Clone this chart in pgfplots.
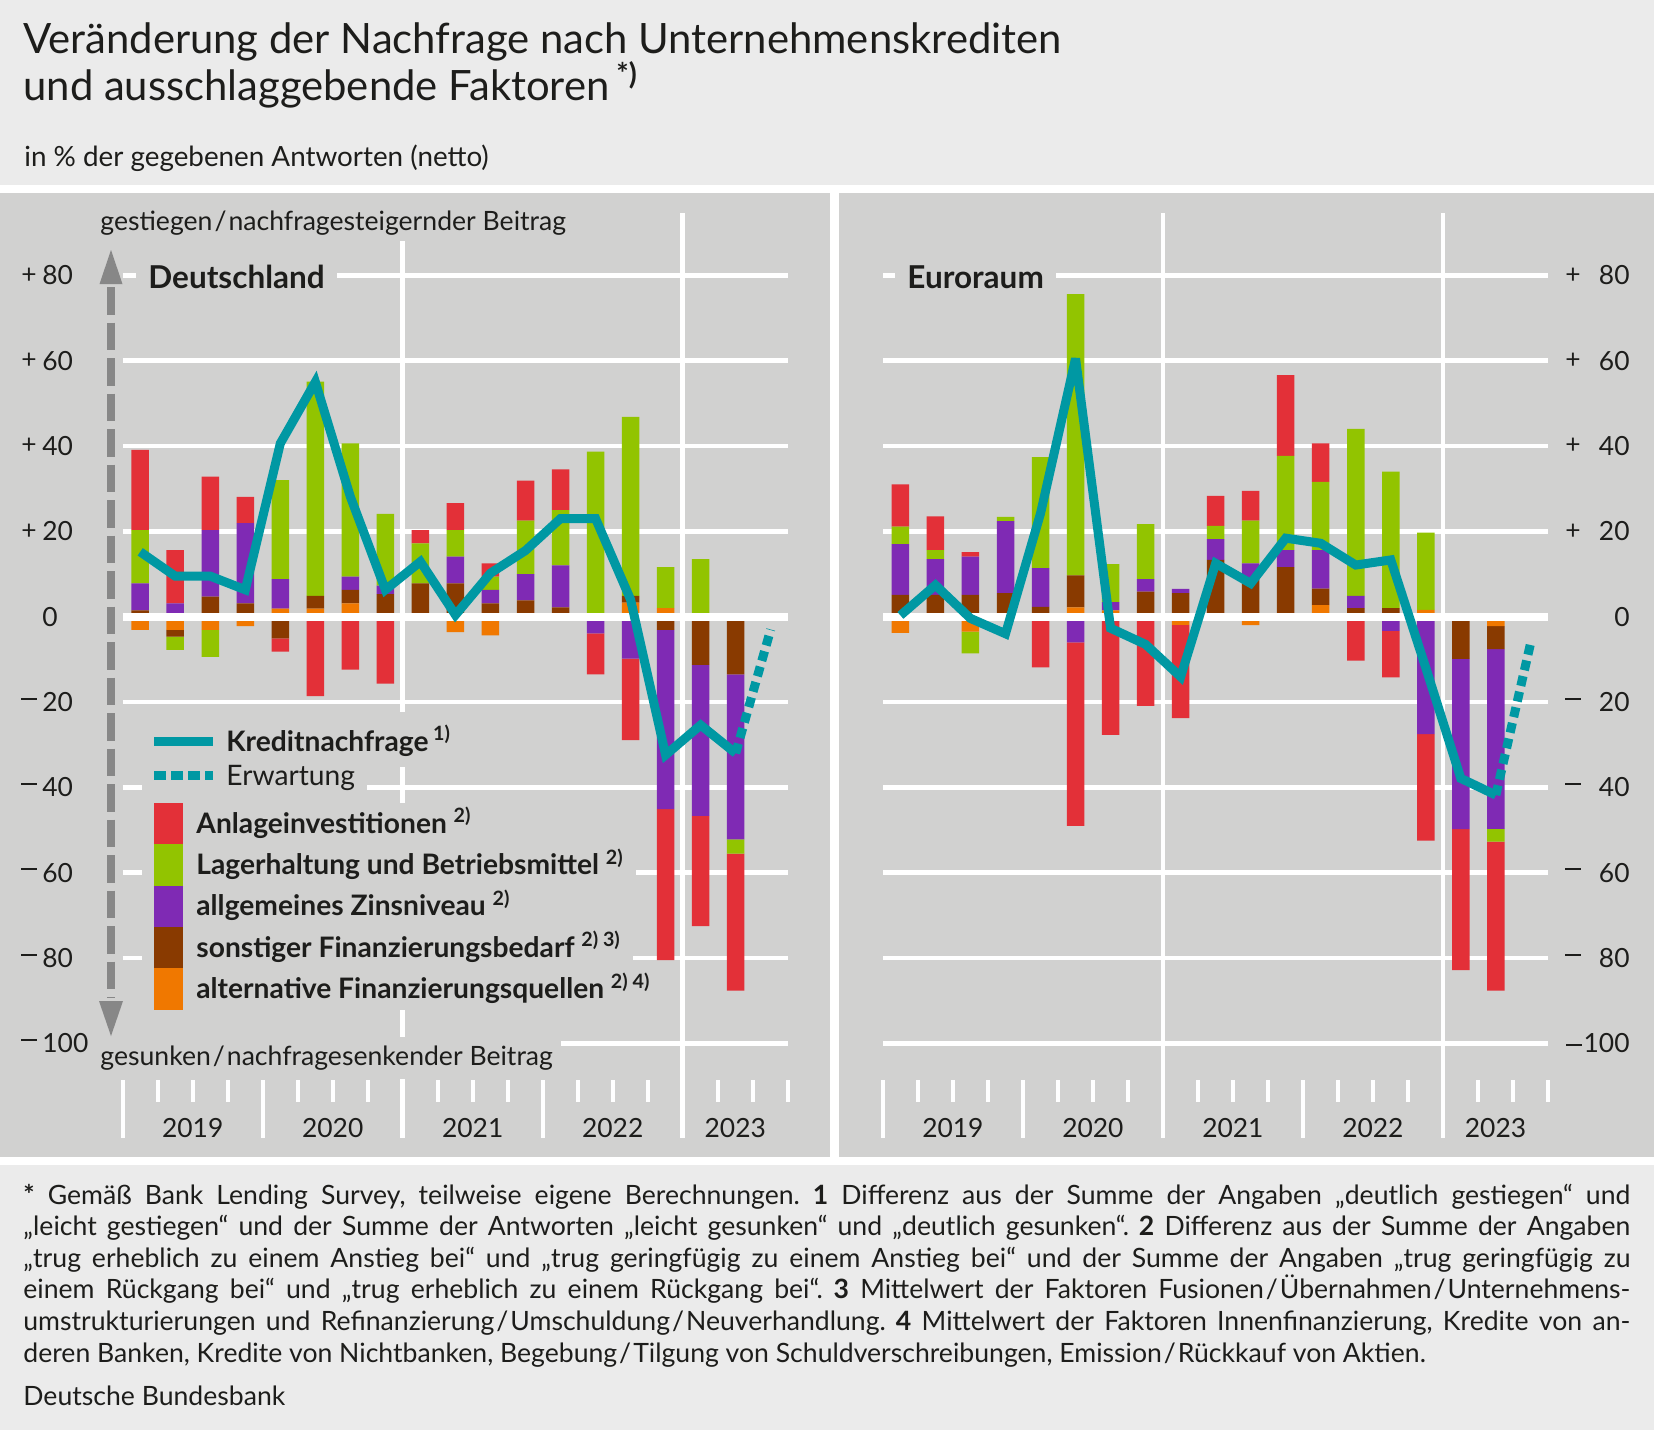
\documentclass[border=0pt]{standalone}
\usepackage{pgfplots}
\pgfplotsset{compat=1.18}
\usepackage{pgfplotstable}
\usepackage{fontspec}
\setmainfont{Lato}
\frenchspacing
\definecolor{bgl}{HTML}{EBEBEB}
\definecolor{panel}{HTML}{D1D1D0}
\definecolor{cred}{HTML}{E33038}
\definecolor{cgreen}{HTML}{92C400}
\definecolor{cpurple}{HTML}{7F2AB4}
\definecolor{cbrown}{HTML}{893A00}
\definecolor{corange}{HTML}{F07800}
\definecolor{cteal}{HTML}{0098A3}
\definecolor{arrowgray}{HTML}{878787}
\definecolor{txt}{HTML}{1D1D1B}
\newcommand{\mns}{\raisebox{0.25em}{\rule{0.58em}{0.07em}}}

% Deutschland: positive and negative parts (o=alternative, b=sonstiger, p=Zins, g=Lager, r=Anlage)
\pgfplotstableread{
x o b p g r
0 0 1.5 6.3 12.5 18.8
1 0 0 3.1 0 12.5
2 0 4.7 15.6 0 12.5
3 0 3.1 18.8 0 6.2
4 1.9 0 6.9 23.2 0
5 1.9 3.0 0 50.2 0
6 3.1 3.2 3.1 31.2 0
7 0 5.3 2.0 16.8 0
8 0 7.8 0 9.4 3.1
9 0 7.8 6.3 6.2 6.3
10 0 3.1 3.2 3.1 3.1
11 0 3.8 6.2 12.5 9.4
12 0 2.2 9.8 13.0 9.5
13 0 0 0 38.7 0
14 3.3 1.6 0 41.9 0
15 2.0 0 0 9.6 0
16 0 0 0 13.5 0
17 0 0 0 0 0
}\dePos
\pgfplotstableread{
x o b p g r
0 -3.1 0 0 0 0
1 -3.1 -1.6 0 -3.1 0
2 -3.1 0 0 -6.3 0
3 -2.2 0 0 0 0
4 0 -5.1 0 0 -3.1
5 0 0 0 0 -18.6
6 0 0 0 0 -12.4
7 0 0 0 0 -15.7
8 -0.5 0 0 0 0
9 -3.6 0 0 0 0
10 -4.4 0 0 0 0
11 0 0 0 0 0
12 0 0 0 0 0
13 0 0 -3.9 0 -9.6
14 0 0 -9.8 0 -19.1
15 0 -3.1 -42.0 0 -35.4
16 0 -11.3 -35.4 0 -25.8
17 0 -13.5 -38.7 -3.3 -32.1
}\deNeg
% Euroraum
\pgfplotstableread{
x o b p g r
0 0 5.1 11.9 4.1 9.9
1 0 5.1 8.4 2.1 7.9
2 0 5.1 9.0 0 1.0
3 0 5.5 16.9 1.0 0
4 0 2.3 9.1 26.0 0
5 2.2 7.5 0 65.9 0
6 1.5 0 1.9 8.9 0
7 0 5.9 2.9 12.9 0
8 0 5.5 1.0 0 0
9 0 13.3 4.9 3.1 7.0
10 0 9.0 3.5 10.0 7.0
11 0 11.6 4.0 22.1 18.9
12 2.7 3.9 9.0 16.0 9.0
13 0 2.0 2.9 39.1 0
14 0 2.0 0 32.0 0
15 1.6 0 0 18.1 0
16 0 0 0 0 0
17 0 0 0 0 0
}\euPos
\pgfplotstableread{
x o b p g r
0 -3.8 0 0 0 0
1 -0.6 0 0 0 0
2 -3.5 0 0 -5.1 0
3 -0.5 0 0 0 0
4 0 0 0 0 -11.9
5 0 0 -6.0 0 -43.0
6 0 0 0 0 -27.7
7 0 0 0 0 -20.9
8 -1.9 0 0 0 -21.9
9 0 0 0 0 0
10 -2.0 0 0 0 0
11 0 0 0 0 0
12 0 0 0 0 0
13 0 0 0 0 -10.3
14 0 0 -3.3 0 -10.9
15 0 -0.8 -26.7 0 -25.0
16 -0.5 -9.4 -39.9 0 -33.0
17 -2.2 -5.4 -42.1 -3.0 -34.9
}\euNeg

\pgfplotsset{
  pan/.style={scale only axis, width=332.75pt, height=384.05pt,
    xmin=-0.5, xmax=18.5, ymin=-100, ymax=80, hide axis, clip=false,
    anchor=south west},
  stk/.style={ybar stacked, bar width=8.75pt},
}
\newcommand{\stackbars}[1]{%
  \addplot[fill=corange, draw=none] table[x=x,y=o]{#1};
  \addplot[fill=cbrown, draw=none] table[x=x,y=b]{#1};
  \addplot[fill=cpurple, draw=none] table[x=x,y=p]{#1};
  \addplot[fill=cgreen, draw=none] table[x=x,y=g]{#1};
  \addplot[fill=cred, draw=none] table[x=x,y=r]{#1};
}
\tikzset{
  tl/.style={inner sep=0pt, font=\fontsize{13.2pt}{15pt}\selectfont, text=txt},
  lrow/.style={anchor=base west, fill=panel, inner sep=0pt, text=txt},
}

\begin{document}
\begin{tikzpicture}
\begin{scope}[x=0.5pt,y=-0.5pt]
\useasboundingbox (0,0) rectangle (1654,1430);
\fill[bgl] (0,0) rectangle (1654,1430);
\fill[white] (0,185) rectangle (1654,193);
\fill[panel] (0,193) rectangle (1654,1157);
\fill[white] (830,193) rectangle (839,1157);
\fill[white] (0,1157) rectangle (1654,1165);
% horizontal gridlines
\foreach \v in {-100,-80,-60,-40,-20,20,40,60,80} {
  \draw[white, line width=2.25pt] (122.7,{616.7-4.2667*\v}) -- (788.2,{616.7-4.2667*\v});
  \draw[white, line width=2.25pt] (882.9,{616.7-4.2667*\v}) -- (1548.4,{616.7-4.2667*\v});
}
% vertical gridlines
\foreach \X in {402.7,682.7,1162.9,1442.9}
  \draw[white, line width=2.35pt] (\X,213) -- (\X,1138);
% bottom ticks
\foreach \k in {0,...,19} {
  \pgfmathsetmacro\XL{122.7+35*\k}
  \pgfmathsetmacro\XR{882.9+35*\k}
  \draw[white, line width=1.85pt] (\XL,1080) -- (\XL,1102);
  \draw[white, line width=1.85pt] (\XR,1080) -- (\XR,1102);
}
\foreach \k in {0,4,8,12,16} {
  \pgfmathsetmacro\XL{122.7+35*\k}
  \pgfmathsetmacro\XR{882.9+35*\k}
  \draw[white, line width=1.85pt] (\XL,1080) -- (\XL,1138);
  \draw[white, line width=1.85pt] (\XR,1080) -- (\XR,1138);
}
% label boxes that interrupt gridlines
\node[anchor=base west, fill=panel, inner xsep=6pt, inner ysep=3pt, text=txt,
  font=\fontsize{15.75pt}{18pt}\selectfont\bfseries] at (136,288) {Deutschland};
\node[anchor=base west, fill=panel, inner xsep=6pt, inner ysep=3pt, text=txt,
  font=\fontsize{15.75pt}{18pt}\selectfont\bfseries] at (895,288) {Euroraum};
\node[anchor=base west, fill=panel, inner xsep=4pt, inner ysep=3pt, text=txt,
  font=\fontsize{13.3pt}{15pt}\selectfont] at (92,230) {gestiegen\kern1pt/\kern1pt nachfragesteigernder Beitrag};
\node[anchor=base west, fill=panel, inner xsep=4pt, inner ysep=0pt, text height=14pt, text depth=7pt, text=txt,
  font=\fontsize{13.3pt}{15pt}\selectfont] at (92,1065) {gesunken\kern1pt/\kern1pt nachfragesenkender Beitrag};
% legend rows
\node[lrow, text height=19.5pt, text depth=8pt, font=\fontsize{14.1pt}{16pt}\selectfont\bfseries]
  at (142,751) {\hspace*{42pt}Kreditnachfrage\,\textsuperscript{1)}\hspace*{6pt}};
\node[lrow, text height=9pt, text depth=7.5pt, font=\fontsize{14.1pt}{16pt}\selectfont]
  at (142,785) {\hspace*{42pt}Erwartung\hspace*{6pt}};
\node[lrow, text height=15.15pt, text depth=5.5pt, font=\fontsize{14.1pt}{16pt}\selectfont\bfseries]
  at (142,833.3) {\hspace*{27pt}Anlageinvestitionen \textsuperscript{2)}\hspace*{6pt}};
\node[lrow, text height=15.15pt, text depth=5.5pt, font=\fontsize{14.1pt}{16pt}\selectfont\bfseries]
  at (142,874.6) {\hspace*{27pt}Lagerhaltung und Betriebsmittel \textsuperscript{2)}\hspace*{6pt}};
\node[lrow, text height=15.15pt, text depth=5.5pt, font=\fontsize{14.1pt}{16pt}\selectfont\bfseries]
  at (142,915.9) {\hspace*{27pt}allgemeines Zinsniveau \textsuperscript{2)}\hspace*{6pt}};
\node[lrow, text height=15.15pt, text depth=5.5pt, font=\fontsize{14.1pt}{16pt}\selectfont\bfseries]
  at (142,957.2) {\hspace*{27pt}sonstiger Finanzierungsbedarf \textsuperscript{2) 3)}\hspace*{6pt}};
\node[lrow, text height=15.15pt, text depth=5.5pt, font=\fontsize{14.1pt}{16pt}\selectfont\bfseries]
  at (142,998.5) {\hspace*{27pt}alternative Finanzierungsquellen \textsuperscript{2) 4)}\hspace*{6pt}};
\end{scope}

% ---------- bars ----------
\begin{axis}[pan, stk, at={(61.35pt,-521.7pt)}]
\stackbars{\dePos}
\end{axis}
\begin{axis}[pan, stk, at={(61.35pt,-521.7pt)}]
\stackbars{\deNeg}
\end{axis}
\begin{axis}[pan, stk, at={(441.45pt,-521.7pt)}]
\stackbars{\euPos}
\end{axis}
\begin{axis}[pan, stk, at={(441.45pt,-521.7pt)}]
\stackbars{\euNeg}
\end{axis}

\begin{scope}[x=0.5pt,y=-0.5pt]
\draw[white, line width=4pt] (122.7,616.7) -- (788.2,616.7);
\draw[white, line width=4pt] (882.9,616.7) -- (1548.4,616.7);
\end{scope}

% ---------- Kreditnachfrage lines ----------
\begin{axis}[pan, at={(61.35pt,-521.7pt)}]
\addplot[cteal, mark=none, line width=4.5pt, line join=miter, miter limit=3] coordinates {
(0,15.2) (1,9.5) (2,9.5) (3,6.3) (4,40.6) (5,55.0) (6,28.1) (7,6.3) (8,12.9)
(9,0.4) (10,10.2) (11,15.5) (12,23.0) (13,23.0) (14,4.0) (15,-32.4) (16,-25.4) (17,-32.0)};
\addplot[cteal, mark=none, line width=4.5pt, dash pattern=on 5pt off 3pt] coordinates {(17,-32.0) (18,-3.0)};
\end{axis}
\begin{axis}[pan, at={(441.45pt,-521.7pt)}]
\addplot[cteal, mark=none, line width=4.5pt, line join=miter, miter limit=3] coordinates {
(0,0.3) (1,7.4) (2,-0.4) (3,-4.0) (4,24.2) (5,60.5) (6,-2.7) (7,-6.5) (8,-14.1)
(9,12.5) (10,7.8) (11,18.4) (12,17.2) (13,12.1) (14,13.3) (15,-12.0) (16,-37.9) (17,-41.8)};
\addplot[cteal, mark=none, line width=4.5pt, dash pattern=on 5pt off 3pt] coordinates {(17,-41.8) (18,-5.9)};
\end{axis}

\begin{scope}[x=0.5pt,y=-0.5pt]
% dashed arrow
\draw[arrowgray, line width=3.85pt, dash pattern=on 13.75pt off 4pt] (111,287) -- (111,998);
\fill[arrowgray] (111,250) -- (122.5,284) -- (99.5,284) -- cycle;
\fill[arrowgray] (111,1036) -- (123,1001) -- (99,1001) -- cycle;
% legend samples
\draw[cteal, line width=4.5pt] (154,741) -- (213,741);
\draw[cteal, line width=4.5pt, dash pattern=on 6pt off 2.5pt] (154,775) -- (213,775);
\fill[cred] (154,803) rectangle (183.3,844.3);
\fill[cgreen] (154,844.3) rectangle (183.3,885.6);
\fill[cpurple] (154,885.6) rectangle (183.3,926.9);
\fill[cbrown] (154,926.9) rectangle (183.3,968.2);
\fill[corange] (154,968.2) rectangle (183.3,1009.5);
% y tick labels
\foreach \v in {20,40,60,80} {
  \node[tl, anchor=west] at (21,{616.7-4.2667*\v}) {+};
  \node[tl, anchor=west] at (42,{616.7-4.2667*\v}) {\v};
  \node[tl, anchor=west] at (21,{616.7+4.2667*\v}) {\mns};
  \node[tl, anchor=west] at (42,{616.7+4.2667*\v}) {\v};
  \node[tl, anchor=west] at (1565,{616.7-4.2667*\v}) {+};
  \node[tl, anchor=east] at (1630,{616.7-4.2667*\v}) {\v};
  \node[tl, anchor=west] at (1565,{616.7+4.2667*\v}) {\mns};
  \node[tl, anchor=east] at (1630,{616.7+4.2667*\v}) {\v};
}
\node[tl, anchor=west] at (42,616.7) {0};
\node[tl, anchor=east] at (1630,616.7) {0};
\node[tl, anchor=west] at (21,1043.4) {\mns};
\node[tl, anchor=west] at (42,1043.4) {100};
\node[tl, anchor=east] at (1630,1043.4) {\mns\kern1pt100};
% year labels
\foreach \X/\y in {192.7/2019,332.7/2020,472.7/2021,612.7/2022,735.3/2023} {
  \node[tl, anchor=base] at (\X,1137) {\y};
  \node[tl, anchor=base] at ({\X+760.2},1137) {\y};
}
% title
\node[anchor=base west, inner sep=0pt, text=txt, font=\fontsize{20.9pt}{25pt}\selectfont]
  at (23,53.3) {Veränderung der Nachfrage nach Unternehmenskrediten};
\node[anchor=base west, inner sep=0pt, text=txt, font=\fontsize{20.9pt}{25pt}\selectfont]
  at (23,100) {und ausschlaggebende Faktoren\,\textsuperscript{\bfseries *)}};
\node[anchor=base west, inner sep=0pt, text=txt, font=\fontsize{13.9pt}{16pt}\selectfont]
  at (24,166.7) {in \% der gegebenen Antworten (netto)};
% footnotes
\begin{scope}[every node/.style={anchor=base west, inner sep=0pt, text=txt, font=\fontsize{13.3pt}{16pt}\selectfont}]
\node at (23,1204) {\makebox[803.5pt][s]{{\bfseries *} Gemäß Bank Lending Survey, teilweise eigene Berechnungen. {\bfseries 1} Differenz aus der Summe der Angaben „deutlich gestiegen“ und}};
\node at (23,1235.6) {\makebox[803.5pt][s]{„leicht gestiegen“ und der Summe der Antworten „leicht gesunken“ und „deutlich gesunken“. {\bfseries 2} Differenz aus der Summe der Angaben}};
\node at (23,1267.2) {\makebox[803.5pt][s]{„trug erheblich zu einem Anstieg bei“ und „trug geringfügig zu einem Anstieg bei“ und der Summe der Angaben „trug geringfügig zu}};
\node at (23,1298.8) {\makebox[803.5pt][s]{einem Rückgang bei“ und „trug erheblich zu einem Rückgang bei“. {\bfseries 3} Mittelwert der Faktoren Fusionen\kern1pt/\kern1pt Übernahmen\kern1pt/\kern1pt Unternehmens-}};
\node at (23,1330.4) {\makebox[803.5pt][s]{umstrukturierungen und Refinanzierung\kern1pt/\kern1pt Umschuldung\kern1pt/\kern1pt Neuverhandlung. {\bfseries 4} Mittelwert der Faktoren Innenfinanzierung, Kredite von an-}};
\node at (23,1362) {deren Banken, Kredite von Nichtbanken, Begebung\kern1pt/\kern1pt Tilgung von Schuldverschreibungen, Emission\kern1pt/\kern1pt Rückkauf von Aktien.};
\node at (23,1405) {Deutsche Bundesbank};
\end{scope}
\end{scope}
\end{tikzpicture}
\end{document}
